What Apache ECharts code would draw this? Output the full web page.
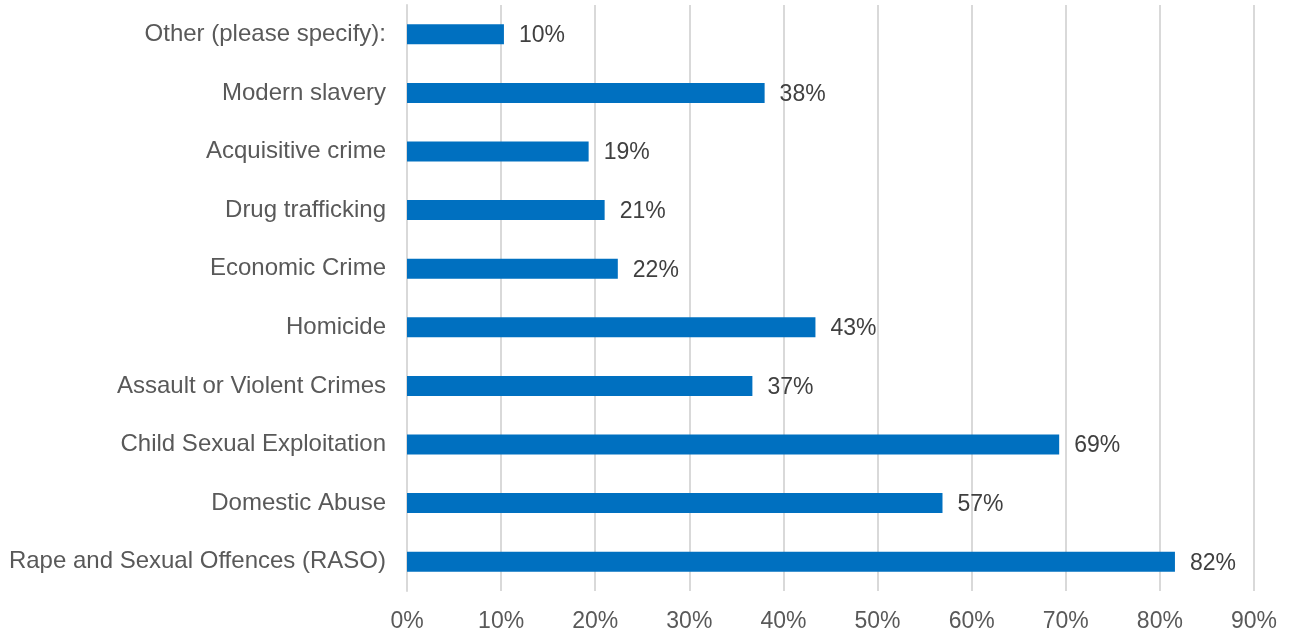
<!DOCTYPE html>
<html>
<head>
<meta charset="utf-8">
<script src="https://cdn.jsdelivr.net/npm/echarts@6/dist/echarts.min.js"></script>
<style>html,body{margin:0;padding:0;background:#fff}#c{width:1291px;height:634px}</style>
</head>
<body>
<div id="c"></div>
<script>
const categories = ["Rape and Sexual Offences (RASO)","Domestic Abuse","Child Sexual Exploitation","Assault or Violent Crimes","Homicide","Economic Crime","Drug trafficking","Acquisitive crime","Modern slavery","Other (please specify):"];
const values = [81.6, 56.9, 69.3, 36.7, 43.4, 22.4, 21.0, 19.3, 38.0, 10.3];
const xTicks = [0,10,20,30,40,50,60,70,80,90];

const chart = echarts.init(document.getElementById('c'));
chart.setOption({
  animation: false,
  grid: {left: 407, right: 37, top: 5, bottom: 43},
  xAxis: {
    type: 'value', min: xTicks[0], max: xTicks[xTicks.length-1], interval: 10,
    axisLine: {show: false}, axisTick: {show: false},
    splitLine: {lineStyle: {color: '#d9d9d9', width: 2}},
    axisLabel: {formatter: v => v + '%', color: '#595959', fontSize: 23, fontFamily: 'Liberation Sans, Arial', margin: 19}
  },
  yAxis: {
    type: 'category', data: categories,
    axisLine: {show: true, lineStyle: {color: '#d9d9d9', width: 2}}, axisTick: {show: false},
    axisLabel: {color: '#595959', fontSize: 24, fontFamily: 'Liberation Sans, Arial', margin: 21, padding: [3, 0, 0, 0]}
  },
  series: [{
    type: 'bar', data: values, barWidth: 20,
    itemStyle: {color: '#0070C0'},
    label: {show: true, position: 'right', distance: 15, offset: [0, 1.5], formatter: p => Math.round(p.value) + '%', color: '#404040', fontSize: 23, fontFamily: 'Liberation Sans, Arial'}
  }]
});
</script>
</body>
</html>
